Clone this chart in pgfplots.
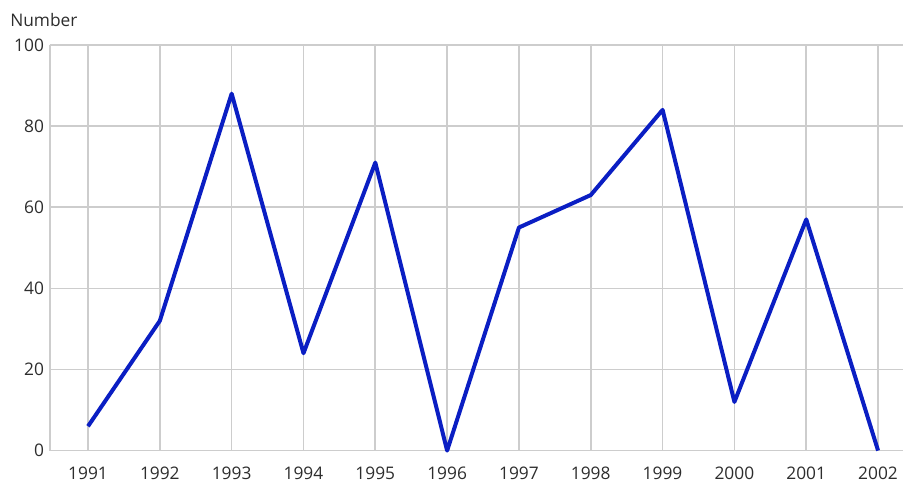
\documentclass[border=0pt]{standalone}
\usepackage{pgfplots}
\pgfplotsset{compat=1.18}
\usepackage{fontspec}
\setmainfont{Open Sans}
\definecolor{gridc}{RGB}{205,205,205}
\definecolor{txt}{RGB}{45,45,45}
\definecolor{lineblue}{RGB}{10,30,195}
\begin{document}
\begin{tikzpicture}[x=1pt,y=1pt]
\begin{axis}[
  scale only axis,
  width=640.5pt, height=304.5pt,
  xmin=1990.47, xmax=2002.35,
  ymin=0, ymax=100,
  xtick={1991,...,2002},
  ytick={0,20,...,100},
  /pgf/number format/1000 sep={},
  /pgf/number format/assume math mode=true,
  grid=major,
  major grid style={gridc, line width=1.2pt},
  axis line style={gridc, line width=1.2pt},
  major tick length=0pt,
  tick label style={font=\fontsize{13}{15}\selectfont, text=txt},
  yticklabel style={xshift=-1pt},
  xticklabel style={yshift=-9pt},
  axis x line*=bottom,
  axis y line*=left,
  clip=false,
]
\addplot[lineblue, line width=3pt, line join=round] coordinates {
  (1991,6) (1992,32) (1993,88) (1994,24) (1995,71) (1996,0)
  (1997,55) (1998,63) (1999,84) (2000,12) (2001,57) (2002,0)
};
\draw[gridc, line width=1.2pt] (rel axis cs:0,1) -- (rel axis cs:1,1);
\end{axis}
\node[anchor=base west, font=\fontsize{13}{15}\selectfont, text=txt, inner sep=0pt] at ([xshift=-30pt, yshift=14pt]current axis.north west) {Number};
\path ([xshift=-37.5pt, yshift=-24pt]current axis.south west) rectangle ([yshift=33.75pt]current axis.north east);
\end{tikzpicture}
\end{document}
